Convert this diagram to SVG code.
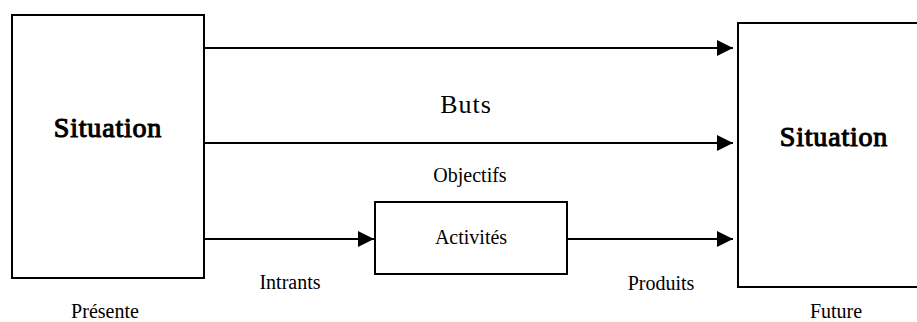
<svg xmlns="http://www.w3.org/2000/svg" width="917" height="322" viewBox="0 0 917 322">
<style>
.box{fill:#fff;stroke:#000;stroke-width:2}
.ln{stroke:#000;stroke-width:2;fill:none}
.t{font-family:"Liberation Serif","Times New Roman",serif;font-size:20px;fill:#000;text-anchor:middle}
.b{font-size:28px;stroke:#000;stroke-width:1.1px;letter-spacing:0.8px}
</style>
<defs>
<marker id="ah" markerUnits="userSpaceOnUse" markerWidth="16" markerHeight="16" viewBox="0 0 15 15" refX="15" refY="7.5" orient="auto">
<path d="M0,0 L15,7.5 L0,15 Z" fill="#000"/>
</marker>
</defs>
<rect width="917" height="322" fill="#fff"/>
<g id="presente">
<rect class="box" x="12" y="15" width="192" height="263"/>
<text class="t b" x="108" y="137">Situation</text>
<text class="t" x="105" y="318">Présente</text>
</g>
<g id="future">
<rect class="box" x="738" y="23" width="200" height="264"/>
<text class="t b" x="834" y="146">Situation</text>
<text class="t" x="836" y="318">Future</text>
</g>
<g id="activites">
<rect class="box" x="375" y="202" width="192" height="72"/>
<text class="t" x="471" y="244">Activités</text>
</g>
<g id="connectors">
<line class="ln" x1="204" y1="48" x2="733" y2="48" marker-end="url(#ah)"/>
<line class="ln" x1="204" y1="143" x2="733" y2="143" marker-end="url(#ah)"/>
<line class="ln" x1="204" y1="239" x2="374" y2="239" marker-end="url(#ah)"/>
<line class="ln" x1="567" y1="239" x2="733" y2="239" marker-end="url(#ah)"/>
<text class="t" x="466" y="113" style="font-size:26px;letter-spacing:1px">Buts</text>
<text class="t" x="470" y="182">Objectifs</text>
<text class="t" x="290" y="289">Intrants</text>
<text class="t" x="661" y="290">Produits</text>
</g>
</svg>
